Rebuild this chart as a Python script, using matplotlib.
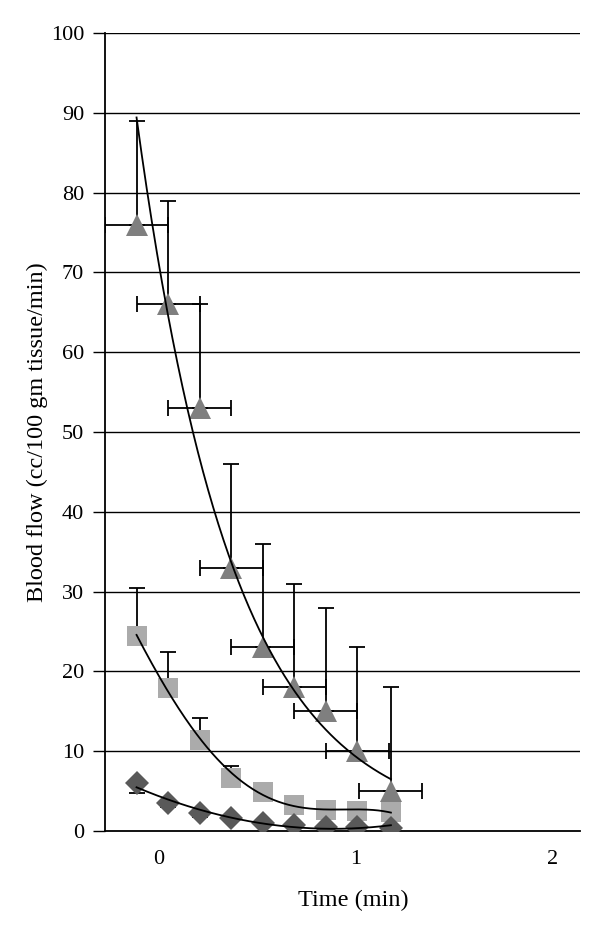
import numpy as np
import matplotlib
matplotlib.use("Agg")
import matplotlib.pyplot as plt

plt.rcParams['font.family'] = ['Liberation Serif', 'DejaVu Serif']

# Zeit (min) for alle serier
tid = [-0.11, 0.05, 0.21, 0.37, 0.53, 0.69, 0.85, 1.01, 1.18]

trekant = [76, 66, 53, 33, 23, 18, 15, 10, 5]
trekant_feil = [13, 13, 13, 13, 13, 13, 13, 13, 13]
tid_feil = 0.16

firkant = [24.4, 17.9, 11.4, 6.6, 4.9, 3.3, 2.6, 2.5, 2.4]
firkant_feil = [6.0, 4.5, 2.8, 1.6, 0.8, 0.6, 0.5, 0.4, 0.4]

diamant = [6.0, 3.5, 2.2, 1.6, 1.0, 0.75, 0.5, 0.5, 0.4]
diamant_feil = [1.3, 0.5, 0.4, 0.3, 0.3, 0.2, 0.2, 0.2, 0.2]

x = np.array(tid)
n = len(x)

fig = plt.figure(figsize=(6, 9.32), dpi=100)
ax = fig.add_axes([0.175, 0.1084, 0.792, 0.8562])

for y in range(10, 101, 10):
    ax.axhline(y, color='black', lw=1.0, zorder=1)

# feilstolper
ax.errorbar(x, trekant, yerr=[np.zeros(n), trekant_feil], xerr=tid_feil,
            fmt='none', ecolor='black', elinewidth=1.3, capsize=6, capthick=1.3, zorder=2)
ax.errorbar(x, firkant, yerr=[np.zeros(n), firkant_feil],
            fmt='none', ecolor='black', elinewidth=1.3, capsize=6, capthick=1.3, zorder=2)
ax.errorbar(x, diamant, yerr=[diamant_feil, np.zeros(n)],
            fmt='none', ecolor='black', elinewidth=1.3, capsize=6, capthick=1.3, zorder=2)

ax.plot(x, trekant, '^', color='#7f7f7f', markersize=16, markeredgewidth=0, zorder=3)
ax.plot(x, firkant, 's', color='#ababab', markersize=15, markeredgewidth=0, zorder=3)
ax.plot(x, diamant, 'D', color='#595959', markersize=12, markeredgewidth=0, zorder=3)

# trendlinjer
xs = np.linspace(x[0], x[-1], 200)
idx = np.arange(n)
ids = np.linspace(0, n - 1, 200)
b, a = np.polyfit(idx, np.log(trekant), 1)
ax.plot(xs, np.exp(a + b * ids), color='black', lw=1.3, zorder=4)
p = np.polyfit(idx, firkant, 4)
ax.plot(xs, np.polyval(p, ids), color='black', lw=1.3, zorder=4)
p = np.polyfit(idx, diamant, 2)
ax.plot(xs, np.polyval(p, ids), color='black', lw=1.3, zorder=4)

ax.set_xlim(-0.27, 2.14)
ax.set_ylim(0, 100)
ax.set_yticks(range(0, 101, 10))
ax.set_xticks([0, 1, 2])
ax.spines['top'].set_visible(False)
ax.spines['right'].set_visible(False)
ax.spines['left'].set_linewidth(1.3)
ax.spines['bottom'].set_linewidth(1.3)
ax.tick_params(axis='y', length=9, width=1.0, labelsize=16, pad=6)
ax.tick_params(axis='x', length=0, labelsize=16, pad=14)
ax.set_xlabel("Time (min)", fontsize=17.5)
ax.set_ylabel("Blood flow (cc/100 gm tissue/min)", fontsize=17.5)
ax.xaxis.set_label_coords(0.522, -0.074)
ax.yaxis.set_label_coords(-0.119, 0.5)

fig.savefig("out.png", dpi=100)
